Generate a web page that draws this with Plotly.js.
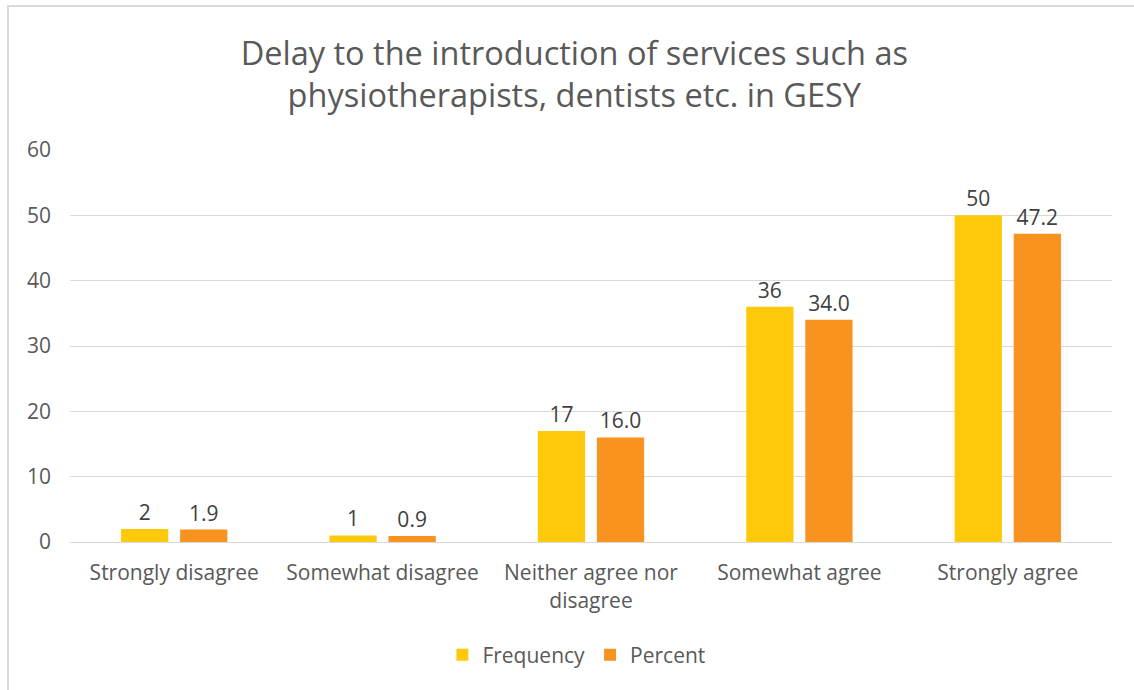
<!DOCTYPE html>
<html>
<head>
<meta charset="utf-8">
<script src="https://cdn.plot.ly/plotly-3.0.1.min.js"></script>
<style>
  html, body { margin: 0; padding: 0; background: #fff; }
  #chart { position: absolute; left: 0; top: 0; width: 1134px; height: 690px; }
  #frame { position: absolute; left: 7px; top: 5px; width: 1200px; height: 800px;
           border-left: 2px solid #d9d9d9; border-top: 2px solid #d9d9d9; pointer-events: none; }
</style>
</head>
<body>
<div id="chart"></div>
<div id="frame"></div>
<script>
var categories = ["Strongly disagree", "Somewhat disagree", "Neither agree nor<br>disagree", "Somewhat agree", "Strongly agree"];
var frequency = [2, 1, 17, 36, 50];
var percent = [1.9, 0.9, 16.0, 34.0, 47.2];

var textColor = '#595959';
var fontFamily = '"Open Sans", "Liberation Sans", sans-serif';

var freqTrace = {
    x: categories,
    y: frequency,
    name: "Frequency",
    type: "bar",
    marker: { color: '#FFC90A' },
    text: frequency.map(function (v) { return String(v); }),
    textposition: 'outside',
    textfont: { size: 21, color: '#404040', family: fontFamily },
    cliponaxis: false,
    hoverinfo: 'none'
};
var pctTrace = {
    x: categories,
    y: percent,
    name: "Percent",
    type: "bar",
    marker: { color: '#F7931E' },
    text: percent.map(function (v) { return v.toFixed(1); }),
    textposition: 'outside',
    textfont: { size: 21, color: '#404040', family: fontFamily },
    cliponaxis: false,
    hoverinfo: 'none'
};

var layout = {
    width: 1134,
    height: 690,
    paper_bgcolor: '#ffffff',
    plot_bgcolor: '#ffffff',
    font: { family: fontFamily, color: textColor, size: 21 },
    margin: { l: 70, r: 22, t: 150, b: 148 },
    title: {
        text: 'Delay to the introduction of services such as<br>physiotherapists, dentists etc. in GESY',
        font: { size: 32.5, color: textColor, family: fontFamily },
        x: 0.484,
        xanchor: 'center',
        xref: 'paper',
        y: 1 - 65 / 690,
        yanchor: 'middle'
    },
    barmode: 'group',
    bargap: 0.433,
    bargroupgap: 0.2,
    xaxis: {
        type: 'category',
        showgrid: false,
        showline: true,
        linecolor: '#d9d9d9',
        linewidth: 1,
        ticks: '',
        tickfont: { size: 21, color: textColor },
        ticklabelstandoff: 12,
        automargin: false,
        fixedrange: true
    },
    yaxis: {
        range: [0, 60],
        tick0: 0,
        dtick: 10,
        showgrid: true,
        gridcolor: '#d9d9d9',
        gridwidth: 1,
        zeroline: false,
        showline: false,
        ticks: '',
        tickfont: { size: 21, color: textColor },
        ticklabelstandoff: 18,
        automargin: false,
        fixedrange: true
    },
    legend: {
        orientation: 'h',
        x: 0.486,
        xanchor: 'center',
        yref: 'container',
        y: 35 / 690,
        yanchor: 'middle',
        font: { size: 21, color: textColor },
        itemwidth: 30,
        traceorder: 'normal'
    },
    showlegend: true
};

Plotly.newPlot('chart', [freqTrace, pctTrace], layout, { displayModeBar: false, staticPlot: true });
</script>
</body>
</html>
